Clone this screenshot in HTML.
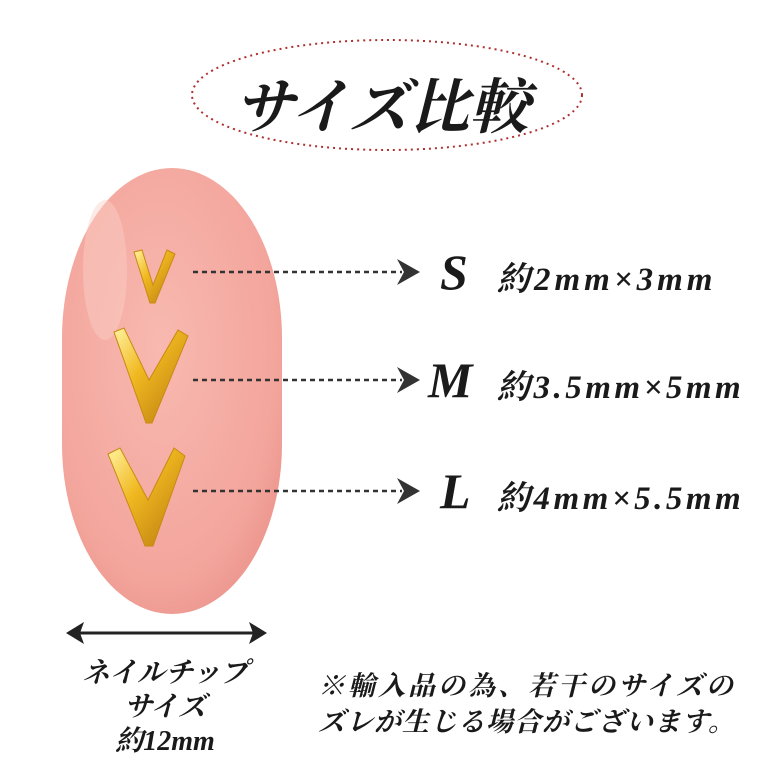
<!DOCTYPE html>
<html><head><meta charset="utf-8"><style>
body{margin:0;width:780px;height:780px;background:#fff;overflow:hidden;position:relative;font-family:"Liberation Serif","Noto Serif CJK SC",serif;}
.t{position:absolute;white-space:nowrap;color:#1a1a1a;font-weight:bold;}
</style></head><body>
<svg width="780" height="780" style="position:absolute;left:0;top:0">
<defs>
<radialGradient id="nail" cx="0.45" cy="0.4" r="0.7">
<stop offset="0" stop-color="#f8b9b0"/><stop offset="0.75" stop-color="#f3a59c"/><stop offset="1" stop-color="#e99189"/>
</radialGradient>
<linearGradient id="gold" x1="0" y1="0" x2="1" y2="1">
<stop offset="0" stop-color="#fff2a0"/><stop offset="0.4" stop-color="#f0b820"/><stop offset="1" stop-color="#b87810"/>
</linearGradient>
</defs>
<ellipse cx="387" cy="95" rx="195" ry="55" fill="none" stroke="#b03030" stroke-width="2" stroke-dasharray="2 4"/>
<rect x="62" y="168" width="220" height="446" rx="110" ry="170" fill="url(#nail)"/>
<ellipse cx="105" cy="270" rx="22" ry="70" fill="#fbd0c8" opacity="0.45"/>
<g fill="url(#gold)" stroke="#c88a10" stroke-width="1">
<polygon points="134,252 142,250 153,285 167,250 175,254 155,303 150,303"/>
<polygon points="114,332 124,328 149,380 178,330 188,336 152,423 146,423"/>
<polygon points="108,454 120,448 148,500 174,448 185,456 153,546 145,546"/>
</g>
<g stroke="#333" stroke-width="2.5" stroke-dasharray="5 4">
<line x1="193" y1="272" x2="402" y2="272"/>
<line x1="193" y1="380" x2="402" y2="380"/>
<line x1="193" y1="491" x2="402" y2="491"/>
</g>
<g fill="#333">
<polygon points="397,259 420,272 397,285 404,272"/>
<polygon points="397,367 420,380 397,393 404,380"/>
<polygon points="397,478 420,491 397,504 404,491"/>
</g>
<line x1="78" y1="633" x2="255" y2="633" stroke="#222" stroke-width="3"/>
<polygon points="66,633 84,622 80,633 84,644" fill="#222"/>
<polygon points="267,633 249,622 253,633 249,644" fill="#222"/>
</svg>
<div class="t" style="left:234px;top:60px;font-size:60px;font-style:italic;">サイズ比較</div>
<div class="t" style="left:440px;top:243px;font-size:50px;font-style:italic;">S</div>
<div class="t" style="left:428px;top:351px;font-size:50px;font-style:italic;">M</div>
<div class="t" style="left:440px;top:462px;font-size:50px;font-style:italic;">L</div>
<div class="t" style="left:497px;top:253px;font-size:33px;font-style:italic;letter-spacing:4px;">約2mm×3mm</div>
<div class="t" style="left:497px;top:361px;font-size:33px;font-style:italic;letter-spacing:3.5px;">約3.5mm×5mm</div>
<div class="t" style="left:497px;top:472px;font-size:33px;font-style:italic;letter-spacing:3.5px;">約4mm×5.5mm</div>
<div class="t" style="left:65px;top:657px;width:200px;text-align:center;font-size:28px;line-height:34px;font-style:italic;">ネイルチップ<br>サイズ<br>約12mm</div>
<div class="t" style="left:318px;top:668px;font-size:27px;line-height:36px;font-style:italic;"><span style="letter-spacing:3px">※輸入品の為、若干のサイズの</span><br><span style="letter-spacing:1px">ズレが生じる場合がございます。</span></div>
</body></html>
